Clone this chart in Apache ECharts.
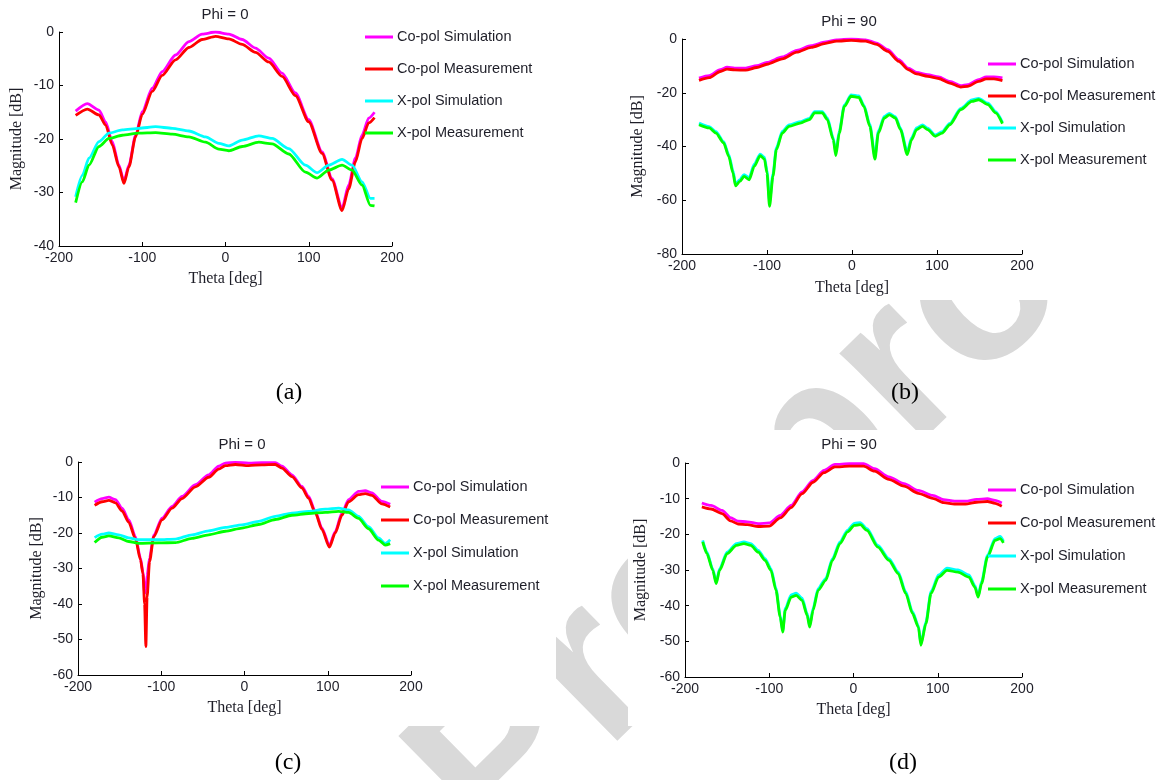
<!DOCTYPE html>
<html>
  <head>
    <meta charset="utf-8" />
    <title>Co-pol / X-pol patterns</title>
    <script src="https://cdn.jsdelivr.net/npm/echarts@6/dist/echarts.min.js"></script>
  </head>
  <body style="margin: 0; background: #fff">
    <div id="chart" style="width: 1168px; height: 780px"></div>
    <script type="text/javascript">
      // ---- data (theta in deg, magnitude in dB) ----
      var seriesNames = ["Co-pol Simulation", "Co-pol Measurement", "X-pol Simulation", "X-pol Measurement"];
      var xTicks = [-200, -100, 0, 100, 200];

      // (a) Phi = 0
      var thetaCoA = [-180,-166,-152,-144,-136,-128,-122,-116,-108,-100,-88,-76,-60,-44,-28,-12,4,20,36,52,68,84,100,116,128,140,148,156,164,172,179];
      var copolSimA = [-14.8,-13.4,-14.6,-16.8,-20.5,-24.9,-27.9,-24.9,-19.3,-14.9,-10.5,-7.4,-4.3,-1.8,-0.4,0,-0.4,-1.4,-3.0,-4.9,-7.7,-11.4,-16.4,-22.4,-27.4,-32.9,-28.6,-23.6,-19.3,-16.1,-15.0];
      var copolMeasA = [-15.6,-14.4,-15.5,-17.4,-21.1,-25.2,-28.3,-25.2,-19.6,-15.4,-11.1,-8.1,-5.2,-2.9,-1.4,-0.8,-1.3,-2.3,-3.8,-5.6,-8.3,-11.9,-16.8,-22.7,-27.7,-33.4,-29.3,-24.3,-19.9,-17.0,-16.0];
      var thetaXA = [-180,-172,-164,-152,-140,-124,-104,-84,-64,-44,-24,-8,4,20,40,56,76,96,110,124,140,152,164,174,179];
      var xpolSimA = [-30.8,-26.8,-23.6,-20.5,-18.9,-18.3,-18.0,-17.7,-18.0,-18.5,-19.6,-20.8,-21.3,-20.2,-19.4,-19.9,-21.8,-24.9,-26.3,-24.9,-23.8,-24.9,-28.0,-31.1,-31.1];
      var xpolMeasA = [-31.9,-28.0,-24.9,-21.4,-19.9,-19.3,-18.9,-18.8,-19.1,-19.6,-20.6,-21.9,-22.2,-21.4,-20.6,-20.9,-22.8,-26.2,-27.3,-25.8,-24.9,-25.8,-28.6,-32.4,-32.5];

      // (b) Phi = 90
      var thetaCoB = [-180,-168,-155,-147,-138,-125,-112,-100,-82,-65,-48,-31,-18,-1,16,29,42,55,66,76,89,102,115,128,136,149,158,167,177];
      var copolSimB = [-14.5,-13.6,-11.4,-10.5,-10.8,-10.8,-9.9,-8.7,-6.7,-4.2,-2.5,-1.1,-0.3,0,-0.3,-1.5,-4.0,-7.7,-10.8,-12.4,-13.3,-14.1,-15.8,-17.4,-17.0,-15.1,-14.1,-14.1,-14.5];
      var copolMeasB = [-15.4,-14.4,-12.1,-11.2,-11.5,-11.6,-10.6,-9.4,-7.4,-4.9,-3.1,-1.6,-0.8,-0.5,-0.8,-2.0,-4.6,-8.3,-11.4,-13.0,-13.9,-14.7,-16.4,-17.9,-17.6,-15.8,-14.8,-14.8,-15.5];
      var thetaXB = [-180,-168,-160,-151,-145,-140,-137,-132,-127,-121,-115,-108,-103,-100,-97,-93,-89,-82,-74,-61,-50,-44,-35,-29,-22,-19,-15,-9,-1,8,14,21,27,31,38,44,51,57,65,70,76,83,89,98,106,115,128,141,149,160,169,177];
      var xpolSimB = [-31.3,-32.6,-34.5,-38.2,-43.0,-49.0,-54.0,-52.3,-50.5,-51.6,-46.6,-42.8,-44.0,-49.0,-60.5,-50.2,-40.5,-34.4,-32.0,-30.8,-29.5,-27.0,-27.0,-29.4,-36.8,-42.5,-34.3,-24.6,-20.8,-21.2,-24.6,-31.8,-43.5,-34.3,-28.8,-27.7,-28.9,-33.1,-42.0,-36.8,-33.1,-32.0,-33.2,-35.7,-34.5,-31.4,-25.8,-22.7,-22.1,-23.9,-27.0,-31.0];
      var xpolMeasB = [-31.9,-33.1,-35.0,-38.7,-43.7,-49.9,-54.6,-53.0,-51.1,-52.4,-47.4,-43.4,-44.7,-49.9,-62.3,-51.1,-41.2,-35.0,-32.5,-31.3,-30.0,-27.5,-27.5,-30.0,-37.5,-43.4,-35.0,-25.1,-21.3,-21.7,-25.1,-32.5,-44.7,-35.0,-29.4,-28.2,-29.4,-33.7,-43.0,-37.5,-33.7,-32.5,-33.7,-36.2,-35.0,-31.9,-26.3,-23.2,-22.6,-24.4,-27.5,-31.5];

      // (c) Phi = 0
      var thetaCoC = [-180,-171,-163,-155,-147,-139,-131,-125,-122,-120,-118.5,-117,-114,-109,-99,-87,-75,-59,-43,-31,-23,-11,5,21,37,45,57,69,77,85,93,102,109,117,125,137,145,153,165,175];
      var copolSimC = [-11.3,-10.3,-9.9,-10.6,-13.0,-16.3,-21.0,-27.0,-31.0,-37.0,-36.0,-32.0,-27.0,-20.5,-15.8,-12.5,-9.7,-6.4,-3.6,-1.2,-0.3,-0.1,-0.3,-0.2,-0.2,-1.2,-3.6,-6.9,-9.7,-13.9,-18.6,-23.5,-19.6,-14.4,-10.6,-8.3,-8.1,-8.7,-11.1,-11.9];
      var copolMeasC = [-12.2,-11.2,-10.8,-11.5,-13.8,-17.0,-21.6,-27.5,-31.5,-40.0,-52.0,-38.0,-28.0,-21.0,-16.3,-13.0,-10.3,-7.0,-4.3,-2.0,-1.0,-0.7,-1.0,-0.8,-0.7,-1.7,-4.1,-7.3,-10.2,-14.3,-19.0,-24.0,-20.0,-15.0,-11.2,-9.2,-8.9,-9.4,-11.8,-12.7];
      var thetaXC = [-180,-171,-163,-151,-139,-127,-103,-83,-63,-43,-23,-3,17,37,57,77,97,113,125,137,149,161,169,175];
      var xpolSimC = [-21.3,-20.3,-20.0,-20.5,-21.4,-21.9,-21.9,-21.7,-20.5,-19.4,-18.4,-17.7,-16.7,-15.3,-14.4,-13.9,-13.3,-13.0,-13.5,-15.3,-18.2,-21.4,-22.9,-21.9];
      var xpolMeasC = [-22.7,-21.2,-20.8,-21.4,-22.4,-22.9,-22.8,-22.7,-21.5,-20.5,-19.5,-18.6,-17.6,-16.2,-15.0,-14.5,-14.2,-13.9,-14.2,-15.9,-18.8,-22.0,-23.4,-23.0];

      // (d) Phi = 90
      var thetaCoD = [-180,-169,-156,-146,-137,-126,-113,-100,-87,-74,-61,-48,-35,-22,-5,12,25,42,60,77,94,107,120,133,146,159,168,176];
      var copolSimD = [-11.2,-11.9,-13.3,-15.3,-16.3,-16.5,-17.0,-16.8,-14.7,-11.9,-8.1,-4.9,-2.1,-0.4,-0.2,-0.2,-1.6,-3.9,-5.8,-7.7,-9.1,-10.3,-10.7,-10.7,-10.2,-10.0,-10.5,-11.2];
      var copolMeasD = [-12.3,-12.9,-14.2,-16.2,-17.1,-17.3,-17.8,-17.7,-15.4,-12.5,-8.6,-5.4,-2.7,-1.1,-0.9,-0.9,-2.3,-4.6,-6.5,-8.5,-9.9,-11.1,-11.5,-11.5,-11.0,-10.8,-11.3,-12.1];
      var thetaXD = [-179,-174,-167,-163,-159,-150,-139,-130,-122,-113,-105,-98,-92,-87,-84,-81,-74,-68,-61,-55,-52,-48,-42,-33,-25,-16,-7,1,8,16,29,42,53,62,70,77,80,86,92,101,111,124,137,144,148,152,159,168,174,178];
      var xpolSimD = [-21.7,-25.0,-29.7,-33.5,-29.7,-25.0,-22.6,-22.1,-22.6,-24.5,-26.8,-29.6,-35.2,-42.8,-47.0,-40.8,-37.0,-36.5,-37.9,-42.2,-45.6,-40.8,-35.2,-32.4,-26.8,-22.1,-18.8,-16.9,-16.7,-18.4,-23.1,-26.8,-30.5,-36.1,-41.7,-45.6,-50.6,-44.5,-36.1,-31.4,-29.5,-30.0,-31.4,-34.3,-37.2,-33.3,-25.9,-21.2,-20.6,-21.9];
      var xpolMeasD = [-22.1,-25.4,-30.1,-33.8,-30.1,-25.4,-23.1,-22.6,-23.1,-25.0,-27.3,-30.1,-35.7,-43.2,-47.4,-41.3,-37.6,-37.1,-38.5,-42.7,-46.0,-41.3,-35.7,-32.9,-27.3,-22.6,-19.3,-17.5,-17.3,-18.9,-23.6,-27.3,-31.0,-36.6,-42.2,-46.0,-51.1,-45.0,-36.6,-32.0,-30.1,-30.6,-32.0,-34.8,-37.6,-33.8,-26.4,-21.7,-21.2,-22.4];

      // ---- layout ----
      var colors = ["#ff00ff", "#ff0000", "#00ffff", "#00ff00"];
      var sans = "Liberation Sans, Arial, sans-serif";
      var serif = "Liberation Serif, Times New Roman, serif";
      var ink = "#1e1e28";

      var panels = [
        { title: "Phi = 0", caption: "(a)", cap: [289, 393], ymin: -40, yint: 10,
          grid: { left: 59, top: 32, width: 333, height: 214 }, tx: 225, ty: 7,
          lg: { left: 365, top: 29, gap: 16 }, nx: 25, ny: 34,
          co: [thetaCoA, copolSimA, copolMeasA], xp: [thetaXA, xpolSimA, xpolMeasA] },
        { title: "Phi = 90", caption: "(b)", cap: [905, 393], ymin: -80, yint: 20,
          grid: { left: 682, top: 39, width: 340, height: 215 }, tx: 849, ty: 14,
          lg: { left: 988, top: 56, gap: 16 }, nx: 26, ny: 36,
          co: [thetaCoB, copolSimB, copolMeasB], xp: [thetaXB, xpolSimB, xpolMeasB] },
        { title: "Phi = 0", caption: "(c)", cap: [288, 763], ymin: -60, yint: 10,
          grid: { left: 78, top: 462, width: 333, height: 213 }, tx: 242, ty: 437,
          lg: { left: 381, top: 479, gap: 17 }, nx: 25, ny: 33,
          co: [thetaCoC, copolSimC, copolMeasC], xp: [thetaXC, xpolSimC, xpolMeasC] },
        { title: "Phi = 90", caption: "(d)", cap: [903, 763], ymin: -60, yint: 10,
          grid: { left: 685, top: 463, width: 337, height: 214 }, tx: 849, ty: 437,
          lg: { left: 988, top: 482, gap: 17 }, nx: 25, ny: 36,
          co: [thetaCoD, copolSimD, copolMeasD], xp: [thetaXD, xpolSimD, xpolMeasD] },
      ];

      function pairs(xs, ys) {
        return xs.map(function (x, i) { return [x, ys[i]]; });
      }

      var option = {
        backgroundColor: "#fff",
        animation: false,
        title: [], grid: [], xAxis: [], yAxis: [], legend: [], series: [],
        graphic: { elements: [
          // faint diagonal watermark, mostly hidden behind the panel images
          { type: "text", x: 503, y: 765, rotation: 0.777, z: -10,
            style: { text: "Journal Pre-proof", fill: "#d9d9d9", align: "center", verticalAlign: "middle",
                     font: "bold 228px " + sans } },
          { type: "rect", z: -5, shape: { x: 0, y: 0, width: 1168, height: 300 }, style: { fill: "#fff" } },
          { type: "rect", z: -5, shape: { x: 0, y: 430, width: 556, height: 296 }, style: { fill: "#fff" } },
          { type: "rect", z: -5, shape: { x: 628, y: 430, width: 540, height: 296 }, style: { fill: "#fff" } },
        ] },
      };

      panels.forEach(function (p, k) {
        option.title.push({ text: p.title, left: p.tx, top: p.ty, textAlign: "center", padding: 0,
          textStyle: { fontFamily: sans, fontSize: 15, fontWeight: "normal", color: ink } });
        option.grid.push(Object.assign({ outerBoundsMode: "none" }, p.grid));
        option.xAxis.push({ gridIndex: k, type: "value", min: xTicks[0], max: xTicks[xTicks.length - 1], interval: 100,
          name: "Theta [deg]", nameLocation: "middle", nameGap: p.nx,
          nameTextStyle: { fontFamily: serif, fontSize: 16, color: ink },
          axisLine: { show: true, onZero: false, lineStyle: { color: "#000", width: 1 } },
          axisTick: { show: true, inside: true, length: 4, lineStyle: { color: "#000" } },
          axisLabel: { margin: 5, fontFamily: sans, fontSize: 14, color: ink, showMinLabel: true, showMaxLabel: true },
          splitLine: { show: false } });
        option.yAxis.push({ gridIndex: k, type: "value", min: p.ymin, max: 0, interval: p.yint,
          name: "Magnitude [dB]", nameLocation: "middle", nameGap: p.ny, nameRotate: 90,
          nameTextStyle: { fontFamily: serif, fontSize: 16, color: ink },
          axisLine: { show: true, onZero: false, lineStyle: { color: "#000", width: 1 } },
          axisTick: { show: true, inside: true, length: 4, lineStyle: { color: "#000" } },
          axisLabel: { margin: 5, fontFamily: sans, fontSize: 14, color: ink, showMinLabel: true, showMaxLabel: true },
          splitLine: { show: false } });
        option.legend.push({ orient: "vertical", left: p.lg.left, top: p.lg.top, padding: 0,
          itemGap: p.lg.gap, itemWidth: 28, itemHeight: 3, icon: "rect", selectedMode: false,
          data: seriesNames,
          textStyle: { fontFamily: sans, fontSize: 14.5, color: ink, lineHeight: 16, padding: [0, 0, 0, -1] } });

        var src = [[p.co[0], p.co[1]], [p.co[0], p.co[2]], [p.xp[0], p.xp[1]], [p.xp[0], p.xp[2]]];
        src.forEach(function (s, j) {
          option.series.push({ name: seriesNames[j], type: "line", xAxisIndex: k, yAxisIndex: k,
            data: pairs(s[0], s[1]), showSymbol: false, smooth: 0.25, smoothMonotone: "x",
            itemStyle: { color: colors[j] }, lineStyle: { color: colors[j], width: 2.8 } });
        });

        option.graphic.elements.push({ type: "text", x: p.cap[0], y: p.cap[1],
          style: { text: p.caption, fill: "#000", align: "center", verticalAlign: "middle", font: "24px " + serif } });
      });

      var chart = echarts.init(document.getElementById("chart"));
      chart.setOption(option);
    </script>
  </body>
</html>
